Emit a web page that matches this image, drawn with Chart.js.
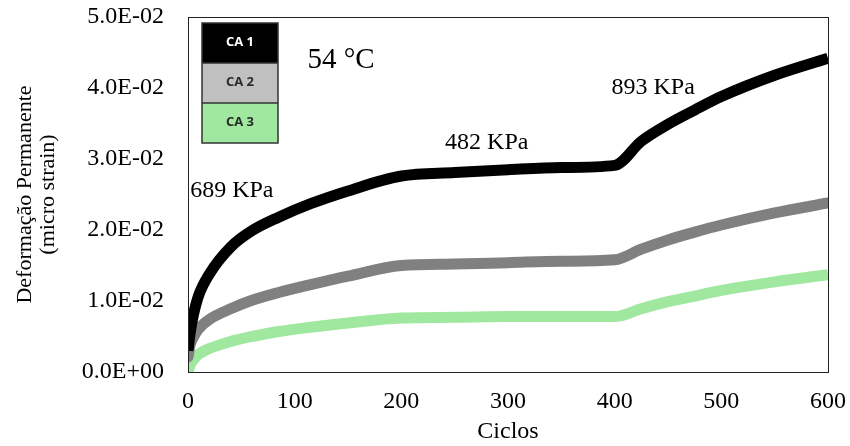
<!DOCTYPE html>
<html>
<head>
<meta charset="utf-8">
<script src="https://cdn.jsdelivr.net/npm/chart.js@4"></script>
<style>
  html, body { margin: 0; padding: 0; background: #fff; }
  #wrap { width: 850px; height: 446px; }
</style>
</head>
<body>
<div id="wrap"><canvas id="chart" width="850" height="446"></canvas></div>
<script>
// data
const cycles = [0, 2, 5, 10, 20, 40, 60, 85, 115, 150, 200, 250, 300, 350, 400, 425, 450, 475, 500, 550, 600];
const ca1 = [0.0030, 0.0055, 0.0080, 0.0108, 0.0138, 0.0176, 0.0199, 0.0218, 0.0237, 0.0255, 0.0276,
             0.0281, 0.0285, 0.0288, 0.0291, 0.0325, 0.0349, 0.0369, 0.0388, 0.0418, 0.0442];
const ca2 = [0.0021, 0.0038, 0.0049, 0.0061, 0.0074, 0.0089, 0.0101, 0.0112, 0.0123, 0.0135, 0.0150,
             0.0152, 0.0154, 0.0156, 0.0158, 0.0173, 0.0186, 0.0197, 0.0207, 0.0224, 0.0238];
const ca3 = [0.0000, 0.0010, 0.0017, 0.0025, 0.0033, 0.0043, 0.0050, 0.0057, 0.0063, 0.0069, 0.0076,
             0.0077, 0.0078, 0.0078, 0.0078, 0.0089, 0.0099, 0.0107, 0.0115, 0.0127, 0.0137];

const seriesNames = ['CA 1', 'CA 2', 'CA 3'];
const xTicks = [0, 100, 200, 300, 400, 500, 600];
const yTicks = [0, 0.01, 0.02, 0.03, 0.04, 0.05];

// text notes placed in data coordinates
const notes = [
  { text: '54 °C', x: 112, y: 0.0439, size: 29 },
  { text: '689 KPa', x: 2, y: 0.0256, size: 24 },
  { text: '482 KPa', x: 241, y: 0.0323, size: 24 },
  { text: '893 KPa', x: 397, y: 0.0401, size: 24 }
];

const serif = '"Liberation Serif", "Times New Roman", serif';

function toPoints(ys) {
  return cycles.map((c, i) => ({ x: c, y: ys[i] }));
}

// 5.0E-02 style labels
function sci(v) {
  if (v === 0) return '0.0E+00';
  const e = Math.floor(Math.log10(v) + 1e-9);
  const m = v / Math.pow(10, e);
  const sign = e < 0 ? '-' : '+';
  return m.toFixed(1) + 'E' + sign + String(Math.abs(e)).padStart(2, '0');
}

// box round the plot area
const frame = {
  id: 'frame',
  afterDraw(chart) {
    const { ctx, chartArea: a } = chart;
    ctx.save();
    ctx.strokeStyle = '#222';
    ctx.lineWidth = 1;
    ctx.strokeRect(a.left + 0.5, a.top + 0.5, a.right - a.left, a.bottom - a.top);
    ctx.restore();
  }
};

// the stacked legend box and the text notes
const notesAndLegend = {
  id: 'notesAndLegend',
  afterDraw(chart) {
    const { ctx, scales } = chart;
    ctx.save();
    ctx.fillStyle = '#000';
    ctx.textBaseline = 'middle';
    ctx.textAlign = 'left';
    notes.forEach(n => {
      ctx.font = n.size + 'px ' + serif;
      ctx.fillText(n.text, scales.x.getPixelForValue(n.x), scales.y.getPixelForValue(n.y));
    });

    const left = 202, top = 23, w = 76, h = 40;
    const fills = ['#000000', '#c0c0c0', '#a0e8a0'];
    const inks = ['#ffffff', '#2a2a2a', '#2a2a2a'];
    seriesNames.forEach((name, i) => {
      const y = top + i * h;
      ctx.fillStyle = fills[i];
      ctx.fillRect(left, y, w, h);
      ctx.fillStyle = inks[i];
      ctx.font = 'bold 13px "Open Sans", "DejaVu Sans", sans-serif';
      ctx.textAlign = 'center';
      ctx.fillText(name, left + w / 2, y + h / 2 - 1);
    });
    ctx.strokeStyle = '#333';
    ctx.lineWidth = 1.5;
    ctx.strokeRect(left, top, w, h * 3);
    ctx.beginPath();
    ctx.moveTo(left, top + h); ctx.lineTo(left + w, top + h);
    ctx.moveTo(left, top + 2 * h); ctx.lineTo(left + w, top + 2 * h);
    ctx.stroke();
    ctx.restore();
  }
};

// drop the label overflow padding so the layout padding alone sets the plot box
function noOverflow(s) {
  s.paddingTop = 0;
  s.paddingBottom = 0;
  s.paddingLeft = 0;
  s.paddingRight = 0;
}

new Chart(document.getElementById('chart'), {
  type: 'line',
  data: {
    datasets: [
      { label: seriesNames[0], data: toPoints(ca1), borderColor: '#000000', borderWidth: 11, borderCapStyle: 'butt' },
      { label: seriesNames[1], data: toPoints(ca2), borderColor: '#808080', borderWidth: 11, borderCapStyle: 'round' },
      { label: seriesNames[2], data: toPoints(ca3), borderColor: '#a0e8a0', borderWidth: 11, borderCapStyle: 'butt' }
    ]
  },
  options: {
    responsive: false,
    animation: false,
    layout: { padding: { left: 0, right: 22, top: 17, bottom: 0 } },
    elements: {
      point: { radius: 0 },
      line: { tension: 0.3, cubicInterpolationMode: 'monotone', borderJoinStyle: 'round' }
    },
    plugins: {
      legend: { display: false },
      tooltip: { enabled: false }
    },
    scales: {
      x: {
        type: 'linear',
        min: 0,
        max: 600,
        afterBuildTicks: s => { s.ticks = xTicks.map(v => ({ value: v })); },
        afterFit: s => { s.height = 74; noOverflow(s); },
        grid: { display: false },
        border: { display: true, color: '#222' },
        ticks: { color: '#000', padding: 7, font: { family: serif, size: 24 } },
        title: {
          display: true,
          text: 'Ciclos',
          color: '#000',
          padding: { top: 0, bottom: 0 },
          font: { family: serif, size: 24 }
        }
      },
      y: {
        min: 0,
        max: 0.05,
        afterBuildTicks: s => { s.ticks = yTicks.map(v => ({ value: v })); },
        afterFit: s => { s.width = 188; noOverflow(s); },
        grid: { display: false },
        border: { display: true, color: '#222' },
        ticks: { color: '#000', padding: 16, font: { family: serif, size: 24 }, callback: v => sci(v) },
        title: {
          display: true,
          text: ['Deformação Permanente', '(micro strain)'],
          color: '#000',
          padding: { top: 14, bottom: 0 },
          font: { family: serif, size: 22, lineHeight: 1.05 }
        }
      }
    }
  },
  plugins: [frame, notesAndLegend]
});
</script>
</body>
</html>
